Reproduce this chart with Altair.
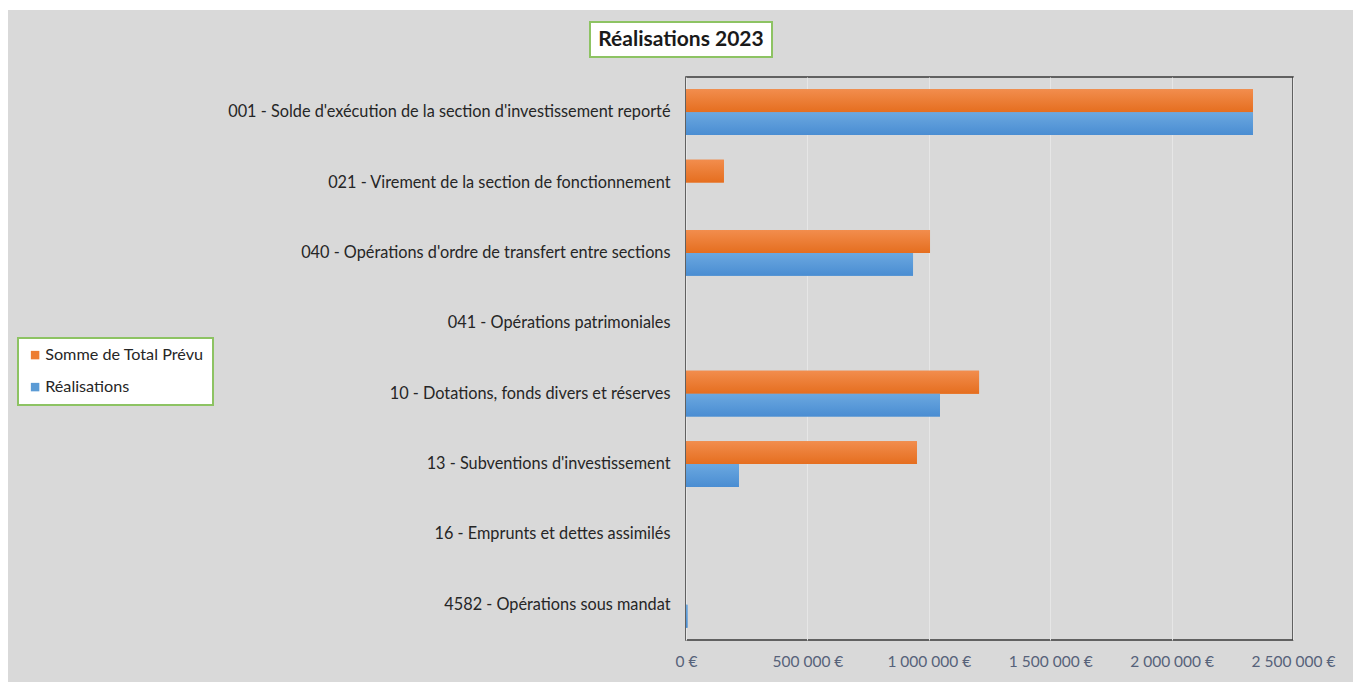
import altair as alt
import pandas as pd

# Chapters of the investment section, top to bottom
chapitres = [
    "001 - Solde d'exécution de la section d'investissement reporté",
    "021 - Virement de la section de fonctionnement",
    "040 - Opérations d'ordre de transfert entre sections",
    "041 - Opérations patrimoniales",
    "10 - Dotations, fonds divers et réserves",
    "13 - Subventions d'investissement",
    "16 - Emprunts et dettes assimilés",
    "4582 - Opérations sous mandat",
]
prevu = [2335000, 156000, 1005000, 0, 1207000, 951000, 0, 0]
realise = [2335000, 0, 935000, 0, 1046000, 218000, 0, 6000]
series = ["Somme de Total Prévu", "Réalisations"]
colors = ["#ED7D31", "#5B9BD5"]
# light-to-dark vertical shading of each series' bars
shades = [("#f28d4d", "#e56e1f"), ("#6ba8e0", "#4a8dd2")]
ticks = [0, 500000, 1000000, 1500000, 2000000, 2500000]

rows = []
for c, p, r in zip(chapitres, prevu, realise):
    rows.append({"chapitre": c, "serie": series[0], "montant": p})
    rows.append({"chapitre": c, "serie": series[1], "montant": r})
df = pd.DataFrame(rows)

W, H = 607, 563
PAD = {"left": 686, "top": 77, "right": 66, "bottom": 42}
FONT = "Lato"

one = pd.DataFrame({"k": [0]})

# thin white margins around the grey chart area
margin_top = alt.Chart(one).mark_rect(color="white").encode(
    x=alt.value(-686), x2=alt.value(W + 66), y=alt.value(-77), y2=alt.value(-67)
)
margin_left = alt.Chart(one).mark_rect(color="white").encode(
    x=alt.value(-686), x2=alt.value(-678), y=alt.value(-77), y2=alt.value(H + 42)
)
margin_right = alt.Chart(one).mark_rect(color="white").encode(
    x=alt.value(667), x2=alt.value(W + 66), y=alt.value(-77), y2=alt.value(H + 42)
)

# framed title
title_box = alt.Chart(one).mark_rect(
    fill="white", stroke="#8dc363", strokeWidth=2
).encode(x=alt.value(-96), x2=alt.value(86), y=alt.value(-55), y2=alt.value(-20))
title_txt = alt.Chart(one).mark_text(
    text="Réalisations 2023", font=FONT, fontSize=21, fontWeight="bold",
    color="#1a1a1a", align="center", baseline="middle"
).encode(x=alt.value(-5), y=alt.value(-37))

x_enc = alt.X(
    "montant:Q",
    scale=alt.Scale(domain=[0, 2500000], nice=False),
    axis=alt.Axis(
        values=ticks, title=None, domain=False, ticks=False,
        grid=True, gridColor="#e6e6e6", gridWidth=1,
        labelFont=FONT, labelFontSize=15.5, labelColor="#56627a",
        labelPadding=14, labelFlush=False,
        labelExpr="replace(format(datum.value, ',d'), regexp(',', 'g'), ' ') + ' €'",
    ),
)
y_enc = alt.Y(
    "chapitre:N",
    sort=chapitres,
    scale=alt.Scale(paddingInner=0.35, paddingOuter=0.175),
    axis=alt.Axis(
        title=None, domain=False, ticks=False, grid=False,
        labelFont=FONT, labelFontSize=16.3, labelColor="#262626",
        labelPadding=16, labelLimit=0,
    ),
)
yoff_enc = alt.YOffset(
    "serie:N", sort=series,
    scale=alt.Scale(domain=series, paddingInner=0, paddingOuter=0),
)

bars = alt.Chart(df).mark_bar().encode(
    x=x_enc,
    y=y_enc,
    yOffset=yoff_enc,
    color=alt.Color(
        "serie:N",
        scale=alt.Scale(domain=series, range=colors),
        legend=alt.Legend(
            title=None, orient="none", legendX=-668, legendY=261,
            fillColor="white", strokeColor="#8dc363",
            padding=9, symbolType="square", symbolSize=72,
            symbolStrokeWidth=0, labelFont=FONT, labelFontSize=16.2,
            labelColor="#262626", rowPadding=15, labelOffset=2,
        ),
    ),
)

# shaded copies drawn over the flat bars
shaded = []
for name, (light, dark) in zip(series, shades):
    shaded.append(
        alt.Chart(df).transform_filter(alt.datum.serie == name).mark_bar(
            color=alt.Gradient(
                gradient="linear", x1=0, y1=0, x2=0, y2=1,
                stops=[alt.GradientStop(color=light, offset=0),
                       alt.GradientStop(color=dark, offset=1)],
            )
        ).encode(x=x_enc, y=y_enc, yOffset=yoff_enc)
    )

chart = alt.layer(
    margin_top, margin_left, margin_right, title_box, title_txt, bars, *shaded
).properties(
    width=W, height=H, padding=PAD,
    autosize=alt.AutoSizeParams(type="none"),
    background="#d9d9d9",
).configure_view(stroke="#3a3a3a", strokeWidth=1.5).configure_legend(strokeWidth=2)

chart.save("out.html", embed_options={"renderer": "svg", "actions": False})
